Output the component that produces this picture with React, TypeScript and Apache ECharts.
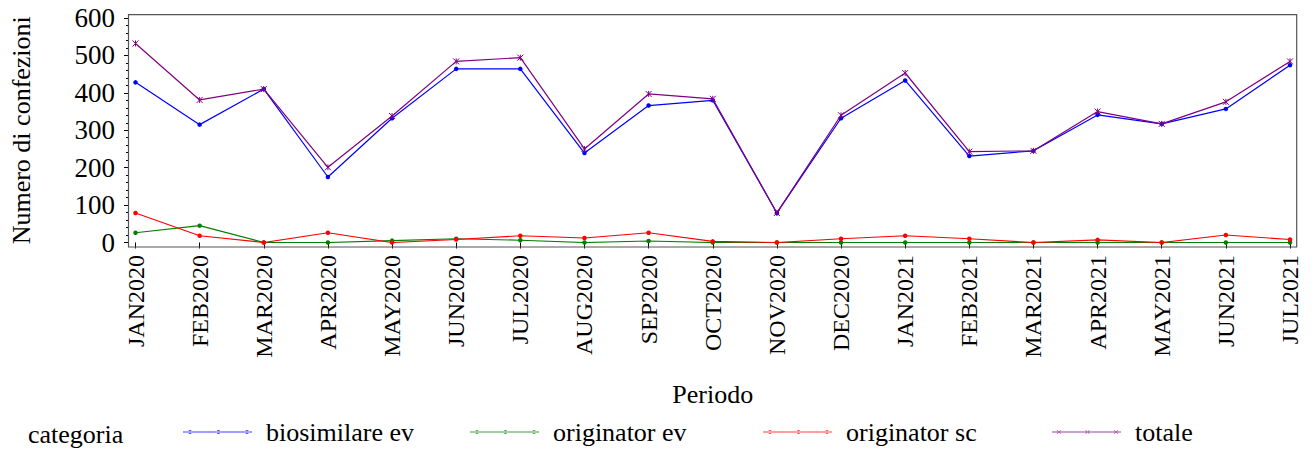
import React, { useEffect, useRef } from 'react';
import * as echarts from 'echarts';

const categories = [
  'JAN2020', 'FEB2020', 'MAR2020', 'APR2020', 'MAY2020', 'JUN2020', 'JUL2020',
  'AUG2020', 'SEP2020', 'OCT2020', 'NOV2020', 'DEC2020', 'JAN2021', 'FEB2021',
  'MAR2021', 'APR2021', 'MAY2021', 'JUN2021', 'JUL2021',
];
const biosimilareEv = [428, 315, 410, 175, 332, 464, 464, 239, 366, 380, 79, 332, 433, 231, 245, 341, 317, 357, 474];
const originatorEv = [26, 45, 0, 0, 5, 10, 6, 0, 4, 0, 0, 0, 0, 0, 0, 0, 0, 0, 0];
const originatorSc = [79, 18, 0, 26, 0, 8, 18, 12, 26, 3, 0, 10, 18, 10, 0, 7, 0, 20, 8];
const totale = [532, 381, 410, 201, 338, 484, 494, 250, 397, 384, 79, 340, 453, 243, 245, 350, 317, 376, 484];
const yTicks = [0, 100, 200, 300, 400, 500, 600];

const FONT = '"Liberation Serif", "Times New Roman", serif';
const BLUE = '#0000ff';
const GREEN = '#008000';
const RED = '#ff0000';
const PURPLE = '#800080';

const dotPositions = [7, 35.5, 64];
const circleAt = (cx: number) => `M${cx - 2},3a2,2 0 1 0 4,0a2,2 0 1 0 -4,0Z`;
const crossAt = (cx: number) =>
  `M${cx - 2.4},0.9L${cx - 1.7},0.9L${cx + 2.4},5.1L${cx + 1.7},5.1Z M${cx + 1.7},0.9L${cx + 2.4},0.9L${cx - 1.7},5.1L${cx - 2.4},5.1Z`;
const lineBar = 'M0,2.4H69V3.6H0Z';
const dotIcon = 'path://' + lineBar + ' ' + dotPositions.map(circleAt).join(' ');
const crossIcon = 'path://' + lineBar + ' ' + dotPositions.map(crossAt).join(' ');

const GRID_LEFT = 135;
const GRID_RIGHT = 22;
const GRID_TOP = 18;
const GRID_HEIGHT = 224.5;

const legendText = { fontFamily: FONT, fontSize: 26, color: '#000', padding: [0, 0, 0, 9] };

function makeLegend(name: string, left: number, icon: string, color: string) {
  return {
    data: [{ name, icon, itemStyle: { color, borderWidth: 0, opacity: 0.75 }, textStyle: legendText }],
    left,
    top: 419,
    padding: 0,
    itemWidth: 69,
    itemHeight: 6,
    selectedMode: false,
    textStyle: legendText,
  };
}

export default function App() {
  const ref = useRef<HTMLDivElement>(null);
  useEffect(() => {
    const chart = echarts.init(ref.current!, null, { renderer: 'svg' });
    const lineSeries = (name: string, data: number[], color: string, z: number) => ({
      name,
      type: 'line',
      data,
      z,
      symbol: 'circle',
      symbolSize: 4.5,
      itemStyle: { color },
      lineStyle: { color, width: 1.2 },
    });
    chart.setOption({
      animation: false,
      backgroundColor: '#fff',
      textStyle: { fontFamily: FONT },
      grid: { left: GRID_LEFT, right: GRID_RIGHT, top: GRID_TOP, height: GRID_HEIGHT, containLabel: false },
      xAxis: {
        type: 'category',
        data: categories,
        boundaryGap: false,
        offset: 4.5,
        axisLine: { show: false },
        axisTick: { show: true, length: 6, alignWithLabel: true, lineStyle: { color: '#000' } },
        axisLabel: {
          rotate: 90,
          margin: 8,
          interval: 0,
          fontFamily: FONT,
          fontSize: 24,
          color: '#000',
        },
        splitLine: { show: false },
        name: 'Periodo',
        nameLocation: 'middle',
        nameGap: 134,
        nameTextStyle: { fontFamily: FONT, fontSize: 26, color: '#000' },
      },
      yAxis: {
        type: 'value',
        min: yTicks[0],
        max: yTicks[yTicks.length - 1],
        interval: 100,
        offset: 6.5,
        axisLine: { show: false },
        axisTick: { show: true, length: 5, lineStyle: { color: '#000' } },
        minorTick: { show: true, splitNumber: 5, length: 3, lineStyle: { color: '#000' } },
        axisLabel: { margin: 14, fontFamily: FONT, fontSize: 27, color: '#000' },
        splitLine: { show: false },
        name: 'Numero di confezioni',
        nameLocation: 'middle',
        nameGap: 95,
        nameTextStyle: { fontFamily: FONT, fontSize: 26, color: '#000' },
      },
      legend: [
        makeLegend('biosimilare ev', 183, dotIcon, BLUE),
        makeLegend('originator ev', 470, dotIcon, GREEN),
        makeLegend('originator sc', 763, dotIcon, RED),
        makeLegend('totale', 1052, crossIcon, PURPLE),
      ],
      graphic: [
        {
          type: 'rect',
          shape: { x: 128.5, y: 14.7, width: 1168.2, height: 232.3 },
          style: { fill: 'none', stroke: '#555', lineWidth: 1.2 },
          silent: true,
          z: 10,
        },
        {
          type: 'text',
          left: 28,
          top: 421,
          style: { text: 'categoria', font: '26px "Liberation Serif", serif', fontFamily: FONT, fontSize: 26, fill: '#000' },
        },
      ],
      series: [
        lineSeries('biosimilare ev', biosimilareEv, BLUE, 3),
        lineSeries('originator ev', originatorEv, GREEN, 2),
        lineSeries('originator sc', originatorSc, RED, 4),
        {
          name: 'totale',
          type: 'line',
          data: totale,
          z: 5,
          symbol: 'path://M0,0L8,8M8,0L0,8M4,0L4,8',
          symbolSize: 6,
          itemStyle: { color: PURPLE, borderColor: PURPLE, borderWidth: 1 },
          lineStyle: { color: PURPLE, width: 1.2 },
        },
      ],
    });
    return () => chart.dispose();
  }, []);
  return <div ref={ref} style={{ position: 'fixed', left: 0, top: 0, width: 1312, height: 452 }} />;
}
